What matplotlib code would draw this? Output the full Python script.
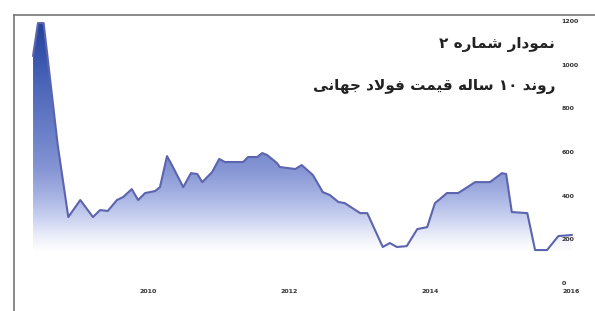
import numpy as np
import matplotlib
matplotlib.use("Agg")
import matplotlib.pyplot as plt
from matplotlib.colors import LinearSegmentedColormap
from matplotlib.patches import Polygon

# ---------------- data ----------------
years = [2008.37, 2008.44, 2008.52, 2008.72, 2008.87, 2009.04, 2009.22, 2009.32,
         2009.43, 2009.56, 2009.65, 2009.77, 2009.86, 2009.96, 2010.10, 2010.17,
         2010.27, 2010.34, 2010.50, 2010.61, 2010.70, 2010.77, 2010.91, 2011.01,
         2011.09, 2011.35, 2011.42, 2011.55, 2011.62, 2011.69, 2011.83, 2011.87,
         2012.09, 2012.18, 2012.34, 2012.48, 2012.58, 2012.70, 2012.79, 2013.01,
         2013.11, 2013.33, 2013.43, 2013.53, 2013.67, 2013.82, 2013.96, 2014.07,
         2014.14, 2014.24, 2014.40, 2014.64, 2014.85, 2015.02, 2015.08, 2015.16,
         2015.38, 2015.49, 2015.66, 2015.82, 2016.01]
prices = [1040, 1190, 1190, 632, 302, 380, 302, 334,
          330, 380, 394, 430, 380, 412, 421, 439,
          581, 540, 439, 503, 499, 462, 508, 568,
          554, 554, 577, 577, 595, 586, 549, 531,
          522, 540, 494, 416, 403, 371, 366, 320,
          320, 165, 183, 165, 169, 247, 256, 366,
          384, 412, 412, 462, 462, 503, 499, 325,
          320, 151, 151, 215, 220]
x_ticks = [2010, 2012, 2014, 2016]
y_ticks = [0, 200, 400, 600, 800, 1000, 1200]
title1 = "نمودار شماره ۲"
title2 = "روند ۱۰ ساله قیمت فولاد جهانی"

# ---------------- simple Arabic/Persian shaping ----------------
FORMS = {  # isolated, final, initial, medial
    'ا': ('\uFE8D', '\uFE8E', None, None),
    'د': ('\uFEA9', '\uFEAA', None, None),
    'ر': ('\uFEAD', '\uFEAE', None, None),
    'و': ('\uFEED', '\uFEEE', None, None),
    'ت': ('\uFE95', '\uFE96', '\uFE97', '\uFE98'),
    'ج': ('\uFE9D', '\uFE9E', '\uFE9F', '\uFEA0'),
    'س': ('\uFEB1', '\uFEB2', '\uFEB3', '\uFEB4'),
    'ش': ('\uFEB5', '\uFEB6', '\uFEB7', '\uFEB8'),
    'ف': ('\uFED1', '\uFED2', '\uFED3', '\uFED4'),
    'ق': ('\uFED5', '\uFED6', '\uFED7', '\uFED8'),
    'ل': ('\uFEDD', '\uFEDE', '\uFEDF', '\uFEE0'),
    'م': ('\uFEE1', '\uFEE2', '\uFEE3', '\uFEE4'),
    'ن': ('\uFEE5', '\uFEE6', '\uFEE7', '\uFEE8'),
    'ه': ('\uFEE9', '\uFEEA', '\uFEEB', '\uFEEC'),
    'ی': ('\uFBFC', '\uFBFD', '\uFBFE', '\uFBFF'),
}


def shape(text):
    chars = list(text)
    merged = []
    i = 0
    while i < len(chars):
        if chars[i] == 'ل' and i + 1 < len(chars) and chars[i + 1] == 'ا':
            merged.append('LA')
            i += 2
        else:
            merged.append(chars[i])
            i += 1

    def dual(c):
        return c in FORMS and FORMS[c][2] is not None

    def joins(c):
        return c in FORMS or c == 'LA'

    out = []
    for k, c in enumerate(merged):
        prev = merged[k - 1] if k > 0 else None
        jp = prev is not None and dual(prev)
        if c == 'LA':
            out.append('\uFEFC' if jp else '\uFEFB')
            continue
        if c not in FORMS:
            out.append(c)
            continue
        nxt = merged[k + 1] if k + 1 < len(merged) else None
        jn = dual(c) and nxt is not None and joins(nxt)
        iso, fin, ini, med = FORMS[c]
        if jp and jn:
            out.append(med)
        elif jp:
            out.append(fin)
        elif jn:
            out.append(ini)
        else:
            out.append(iso)
    vis = out[::-1]
    res = []
    run = []
    for ch in vis:
        if '\u06F0' <= ch <= '\u06F9':
            run.append(ch)
        else:
            if run:
                res.extend(run[::-1])
                run = []
            res.append(ch)
    if run:
        res.extend(run[::-1])
    return ''.join(res)


# ---------------- figure ----------------
fig = plt.figure(figsize=(5.95, 3.11), dpi=100)
fig.patch.set_facecolor('white')
ax = fig.add_axes([14 / 595, 0.0, 1 - 14 / 595, 1 - 15 / 311])

ax.set_xlim(2008.10, 2016.34)
ax.set_ylim(-128, 1227)

cmap = LinearSegmentedColormap.from_list(
    'steel',
    [(0.0, '#ffffff'), (0.06, '#eef0fa'), (0.14, '#cdd4f1'), (0.24, '#a7b3e3'),
     (0.36, '#8595d4'), (0.52, '#6a7fc8'), (0.75, '#4762b6'), (1.0, '#22409a')])
base = 140
xs = np.array(years)
ys = np.array(prices)
poly_xy = np.vstack([np.column_stack([xs, ys]),
                     [[xs[-1], base], [xs[0], base]]])
poly = Polygon(poly_xy, closed=True, facecolor='none', edgecolor='none')
ax.add_patch(poly)
grad = np.linspace(0, 1, 256).reshape(-1, 1)
im = ax.imshow(grad, extent=[xs[0], xs[-1], base, 1200], origin='lower',
               aspect='auto', cmap=cmap, zorder=1, interpolation='bilinear')
im.set_clip_path(poly)
ax.plot(xs, ys, color='#5c64ae', lw=1.5, zorder=3, solid_joinstyle='round')

for s in ['right', 'bottom']:
    ax.spines[s].set_visible(False)
for s in ['left', 'top']:
    ax.spines[s].set_color('#777777')
    ax.spines[s].set_linewidth(1.2)

ax.set_xticks(x_ticks)
ax.set_xticklabels([str(v) for v in x_ticks])
ax.set_yticks(y_ticks)
ax.set_yticklabels([str(v) for v in y_ticks])
ax.tick_params(axis='x', length=0, pad=-16, labelsize=4.5, labelcolor='#333333')
ax.tick_params(axis='y', left=False, right=False, labelleft=False, labelright=True,
               length=0, pad=-24, labelsize=4.5, labelcolor='#333333')
for lab in ax.get_xticklabels() + ax.get_yticklabels():
    lab.set_fontweight('bold')

fig.text(555 / 595, 1 - 45 / 311, shape(title1), ha='right', va='center',
         fontsize=11, fontweight='bold', color='#222222', family='DejaVu Sans')
fig.text(555 / 595, 1 - 86 / 311, shape(title2), ha='right', va='center',
         fontsize=11, fontweight='bold', color='#222222', family='DejaVu Sans')

fig.savefig('out.png', dpi=100, facecolor='white')
